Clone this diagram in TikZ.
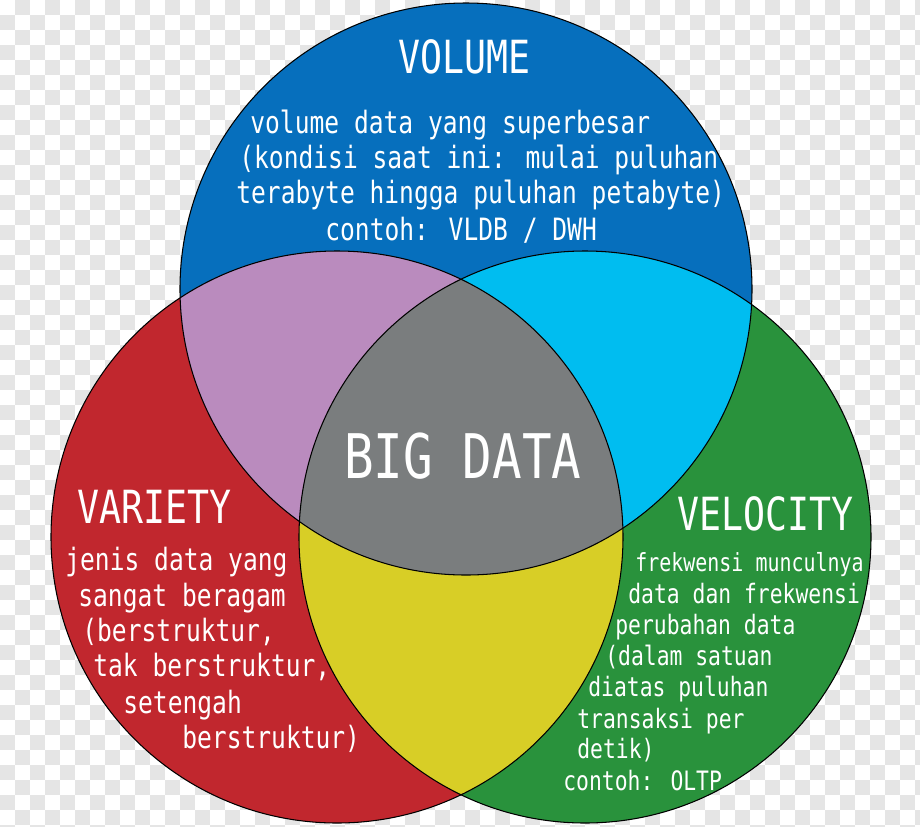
\documentclass[tikz,border=0pt]{standalone}
\usepackage{fontspec}
\newfontfamily\gothic[FakeStretch=0.8]{DejaVu Sans Mono}
\definecolor{volblue}{RGB}{6,111,189}
\definecolor{varred}{RGB}{193,39,46}
\definecolor{velgreen}{RGB}{41,146,60}
\definecolor{lilac}{RGB}{186,139,190}
\definecolor{skyblue}{RGB}{0,189,240}
\definecolor{mustard}{RGB}{216,206,38}
\definecolor{coregray}{RGB}{122,125,126}
\definecolor{checker}{RGB}{229,229,229}
\tikzset{
  heading/.style={anchor=base west,inner sep=0pt,text=white,font=\gothic\fontsize{26}{30}\selectfont},
  body/.style={anchor=base west,inner sep=0pt,text=white,font=\gothic\fontsize{17.5}{21}\selectfont},
  velbody/.style={body,font=\gothic\fontsize{15.2}{18}\selectfont},
  outline/.style={black,line width=0.6pt}
}

\begin{document}
\begin{tikzpicture}[x=0.02cm,y=-0.02cm]
  \useasboundingbox (0,0) rectangle (920,826);
  \begin{scope}
    \clip (0,0) rectangle (920,826);
    \foreach \i in {0,...,61} \foreach \j in {0,...,55} {
      \pgfmathtruncatemacro\odd{mod(\i+\j,2)}
      \ifnum\odd=1 \fill[checker] (15*\i,15*\j) rectangle ++(15,15); \fi
    }
  \end{scope}

  \coordinate (vol) at (466,289);
  \coordinate (var) at (337,537);
  \coordinate (vel) at (585,537);
  \def\rad{286}

  \fill[volblue] (vol) circle[radius=\rad];
  \fill[varred] (var) circle[radius=\rad];
  \fill[velgreen] (vel) circle[radius=\rad];
  \begin{scope}
    \clip (vol) circle[radius=\rad];
    \fill[lilac] (var) circle[radius=\rad];
    \fill[skyblue] (vel) circle[radius=\rad];
  \end{scope}
  \begin{scope}
    \clip (var) circle[radius=\rad];
    \fill[mustard] (vel) circle[radius=\rad];
    \clip (vel) circle[radius=\rad];
    \fill[coregray] (vol) circle[radius=\rad];
  \end{scope}
  \draw[outline] (vol) circle[radius=\rad];
  \draw[outline] (var) circle[radius=\rad];
  \draw[outline] (vel) circle[radius=\rad];

  \node[heading] (voltitle) at (398,73) {VOLUME};
  \node[heading] (vartitle) at (77,523) {VARIETY};
  \node[heading] (veltitle) at (677,530) {VELOCITY};
  \node[heading,font=\gothic\fontsize{35}{40}\selectfont] (core) at (344,478) {BIG DATA};

  \foreach \x/\y/\t [count=\i] in {250/133/{volume data yang superbesar},
      239/168/{(kondisi saat ini: mulai puluhan},
      236/203/{terabyte hingga puluhan petabyte)},
      325/240/{contoh: VLDB / DWH}}
    \node[body] (vol\i) at (\x,\y) {\t};

  \foreach \x/\y/\t [count=\i] in {65/570/{jenis data yang},
      78/606/{sangat beragam},
      82/641/{(berstruktur,},
      93/676/{tak berstruktur,},
      123/713/{setengah},
      182/748/{berstruktur)}}
    \node[body] (var\i) at (\x,\y) {\t};

  \node[velbody,font=\gothic\fontsize{14.2}{18}\selectfont] (vel1) at (635,571) {frekwensi munculnya};
  \foreach \x/\y/\t [count=\i from 2] in {628/603/{data dan frekwensi},
      615/634/{perubahan data},
      605/665/{(dalam satuan},
      588/696/{diatas puluhan},
      577/728/{transaksi per},
      577/758/{detik)},
      563/790/{contoh: OLTP}}
    \node[velbody] (vel\i) at (\x,\y) {\t};
\end{tikzpicture}
\end{document}
